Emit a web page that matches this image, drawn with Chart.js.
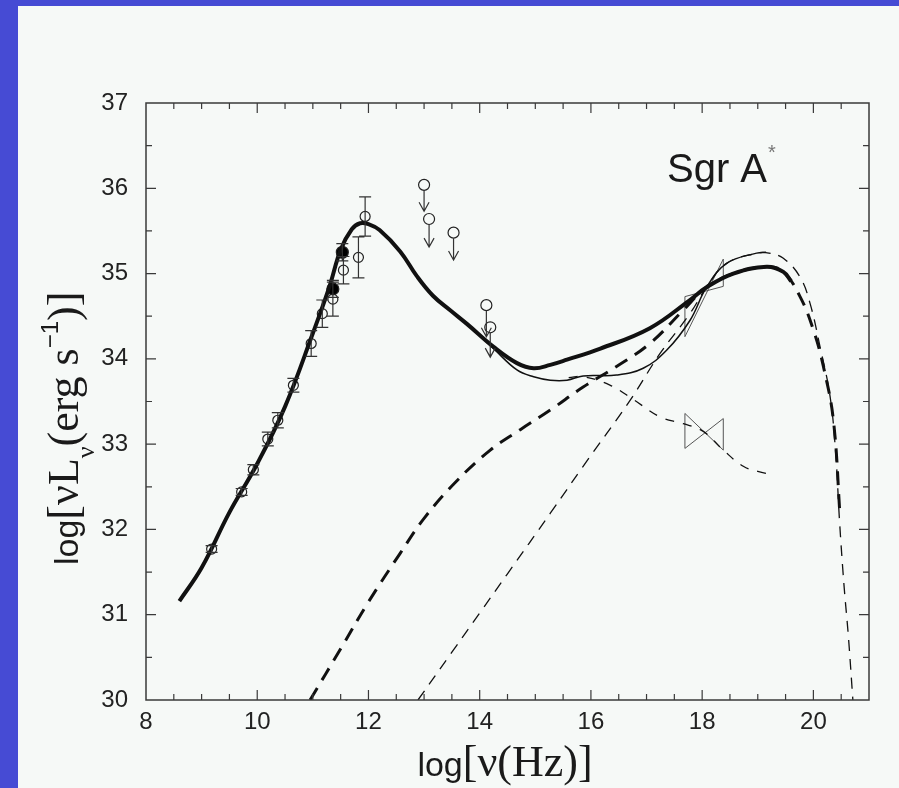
<!DOCTYPE html>
<html>
<head>
<meta charset="utf-8">
<script src="https://cdn.jsdelivr.net/npm/chart.js@4.4.0/dist/chart.umd.min.js"></script>
<style>
  html, body { margin: 0; padding: 0; }
  body { width: 899px; height: 788px; background: #464bd4; position: relative; overflow: hidden; }
  #paper { position: absolute; left: 18px; top: 6px; right: 0; bottom: 0; background: #f6f9f7; }
  #box { position: absolute; left: 0; top: 0; width: 899px; height: 788px; }
</style>
</head>
<body>
<div id="paper"></div>
<div id="box"><canvas id="sed"></canvas></div>
<script>
// axis ranges (log nu, log nuLnu)
const xMin = 8, xMax = 21;
const yMin = 30, yMax = 37;

// radio/submm detections (open circles) with error bars
const detX = [9.18, 9.72, 9.93, 10.19, 10.37, 10.65, 10.97, 11.17, 11.36, 11.55, 11.82, 11.94];
const detY = [31.77, 32.44, 32.70, 33.06, 33.28, 33.69, 34.18, 34.53, 34.70, 35.04, 35.19, 35.67];
const detErr = [0.04, 0.04, 0.06, 0.08, 0.09, 0.08, 0.15, 0.16, 0.20, 0.16, 0.24, 0.23];

// filled circles
const fillX = [11.36, 11.53];
const fillY = [34.82, 35.25];
const fillErr = [0.10, 0.10];

// IR upper limits (circle + arrow down to tip)
const limX = [13.00, 13.09, 13.53, 14.12, 14.19];
const limY = [36.04, 35.64, 35.48, 34.63, 34.37];
const limTip = [35.73, 35.31, 35.16, 34.26, 34.02];

// thick solid model
const totAX = [8.6, 9.0, 9.5, 10.0, 10.5, 11.0, 11.3, 11.5, 11.7, 11.85, 12.0, 12.2, 12.57, 12.87, 13.16, 13.47, 13.77, 14.25, 14.67, 14.97, 15.27, 15.57, 16.17, 17.06, 17.78, 18.08, 18.56, 19.16, 19.46, 19.6];
const totAY = [31.16, 31.55, 32.2, 32.77, 33.44, 34.3, 34.85, 35.28, 35.52, 35.59, 35.58, 35.51, 35.26, 34.97, 34.74, 34.57, 34.41, 34.14, 33.95, 33.89, 33.93, 33.99, 34.12, 34.36, 34.69, 34.84, 35.0, 35.08, 35.02, 34.91];

// thin solid model
const totBX = [13.47, 13.77, 14.25, 14.67, 14.97, 15.27, 15.57, 15.86, 16.46, 16.94, 17.36, 17.78, 18.08, 18.44, 18.98, 19.15];
const totBY = [34.57, 34.41, 34.12, 33.87, 33.79, 33.75, 33.75, 33.80, 33.81, 33.89, 34.10, 34.45, 34.84, 35.12, 35.24, 35.25];

// thick dashed component
const compAX = [10.95, 11.5, 12.0, 12.57, 13.0, 13.56, 14.19, 14.73, 15.27, 15.86, 16.46, 17.06, 17.66, 18.08, 18.56, 19.16, 19.46, 19.76, 20.0, 20.18, 20.36, 20.48];
const compAY = [30.0, 30.6, 31.15, 31.72, 32.13, 32.55, 32.93, 33.17, 33.40, 33.67, 33.91, 34.18, 34.57, 34.84, 35.0, 35.08, 35.02, 34.73, 34.34, 33.91, 33.28, 32.15];

// thin dashed component (steep, high energy)
const compBX = [12.89, 13.5, 14.0, 14.5, 15.27, 15.86, 16.71, 17.24, 17.78, 18.08, 18.44, 19.0, 19.2, 19.46, 19.76, 19.94, 20.12, 20.3, 20.4, 20.47, 20.55, 20.63, 20.71];
const compBY = [30.0, 30.56, 31.02, 31.48, 32.19, 32.74, 33.52, 34.06, 34.53, 34.84, 35.12, 35.24, 35.24, 35.18, 34.96, 34.65, 34.14, 33.56, 32.9, 32.1, 31.35, 30.74, 30.0];

// thin dashed component (falling, through lower bowtie)
const compCX = [15.6, 15.87, 16.35, 16.77, 17.24, 17.66, 18.02, 18.38, 18.74, 19.0, 19.28];
const compCY = [33.78, 33.79, 33.69, 33.52, 33.32, 33.24, 33.15, 32.93, 32.74, 32.68, 32.64];

// X-ray bowties (corner sequence)
const bowHiX = [17.69, 18.38, 18.38, 17.69, 17.69];
const bowHiY = [34.73, 34.85, 35.17, 34.26, 34.73];
const bowLoX = [17.69, 18.38, 18.38, 17.69, 17.69];
const bowLoY = [33.36, 32.93, 33.30, 32.95, 33.36];

const xy = (xs, ys) => xs.map((x, i) => ({ x: x, y: ys[i] }));

function curve(xs, ys, width, dash) {
  return {
    data: xy(xs, ys),
    borderColor: '#111',
    borderWidth: width,
    borderDash: dash || [],
    pointRadius: 0,
    fill: false,
    tension: 0.4
  };
}

function bow(xs, ys) {
  return { data: xy(xs, ys), borderColor: '#555', borderWidth: 1, pointRadius: 0, tension: 0, fill: false };
}

function dots(xs, ys, r, fillCol) {
  return {
    data: xy(xs, ys),
    showLine: false,
    pointRadius: r,
    pointBackgroundColor: fillCol,
    pointBorderColor: '#222',
    pointBorderWidth: 1.2
  };
}

const boxPlugin = {
  id: 'box',
  afterDatasetsDraw(chart) {
    const { ctx, chartArea: a, scales: { x, y } } = chart;
    ctx.save();
    // error bars
    ctx.strokeStyle = '#333';
    ctx.lineWidth = 1.2;
    ctx.beginPath();
    const bars = (xs, ys, es) => xs.forEach((v, i) => {
      const px = x.getPixelForValue(v);
      const lo = y.getPixelForValue(ys[i] - es[i]);
      const hi = y.getPixelForValue(ys[i] + es[i]);
      ctx.moveTo(px, lo); ctx.lineTo(px, hi);
      ctx.moveTo(px - 6, lo); ctx.lineTo(px + 6, lo);
      ctx.moveTo(px - 6, hi); ctx.lineTo(px + 6, hi);
    });
    bars(detX, detY, detErr);
    bars(fillX, fillY, fillErr);
    // upper limit arrows
    limX.forEach((v, i) => {
      const px = x.getPixelForValue(v);
      const top = y.getPixelForValue(limY[i]) + 5.5;
      const tip = y.getPixelForValue(limTip[i]);
      ctx.moveTo(px, top); ctx.lineTo(px, tip);
      ctx.moveTo(px - 5, tip - 9); ctx.lineTo(px, tip); ctx.lineTo(px + 5, tip - 9);
    });
    ctx.stroke();

    // frame with inward ticks on all sides
    ctx.strokeStyle = '#3a3a3a';
    ctx.lineWidth = 1.5;
    ctx.strokeRect(a.left, a.top, a.right - a.left, a.bottom - a.top);
    ctx.lineWidth = 1.2;
    ctx.beginPath();
    for (let v = xMin + 0.5; v < xMax; v += 0.5) {
      const px = x.getPixelForValue(v);
      const len = v % 2 === 0 ? 10 : 6;
      ctx.moveTo(px, a.bottom); ctx.lineTo(px, a.bottom - len);
      ctx.moveTo(px, a.top); ctx.lineTo(px, a.top + len);
    }
    for (let v = yMin + 0.5; v < yMax; v += 0.5) {
      const py = y.getPixelForValue(v);
      const len = v % 1 === 0 ? 10 : 6;
      ctx.moveTo(a.left, py); ctx.lineTo(a.left + len, py);
      ctx.moveTo(a.right, py); ctx.lineTo(a.right - len, py);
    }
    ctx.stroke();
    ctx.restore();
  },
  afterDraw(chart) {
    const ctx = chart.ctx;
    ctx.save();
    ctx.fillStyle = '#1a1a1a';
    ctx.textBaseline = 'alphabetic';
    ctx.textAlign = 'left';

    // pieces: [text, font, baseline shift]
    const write = (parts) => {
      let cx = 0;
      parts.forEach(([t, f, dy]) => {
        ctx.font = f;
        ctx.fillText(t, cx, dy);
        cx += ctx.measureText(t).width;
      });
      return cx;
    };
    const sans = '34px "Liberation Sans"';
    const serif = '44px "Liberation Serif"';

    // x title
    ctx.save();
    const xParts = [['log', sans, 0], ['[ν(Hz)]', serif, 0]];
    let wx = 0;
    xParts.forEach(([t, f]) => { ctx.font = f; wx += ctx.measureText(t).width; });
    ctx.translate(505 - wx / 2, 776);
    write(xParts);
    ctx.restore();

    // y title
    ctx.save();
    ctx.translate(78, 565);
    ctx.rotate(-Math.PI / 2);
    write([
      ['log', sans, 0],
      ['[νL', serif, 0],
      ['ν', '26px "Liberation Serif"', 16],
      ['(erg s', serif, 0],
      ['−1', '24px "Liberation Sans"', -20],
      [')]', serif, 0]
    ]);
    ctx.restore();

    // label
    ctx.font = '40px "Liberation Sans"';
    ctx.textAlign = 'right';
    ctx.fillText('Sgr A', 767, 182);
    ctx.fillStyle = '#777';
    ctx.font = '20px "Liberation Sans"';
    ctx.textAlign = 'left';
    ctx.fillText('*', 768, 159);
    ctx.restore();
  }
};

new Chart(document.getElementById('sed'), {
  type: 'line',
  data: {
    datasets: [
      curve(compBX, compBY, 1.3, [11, 8]),
      curve(compCX, compCY, 1.3, [9, 9]),
      curve(compAX, compAY, 3, [14, 9]),
      curve(totBX, totBY, 1.5),
      curve(totAX, totAY, 4),
      bow(bowHiX, bowHiY),
      bow(bowLoX, bowLoY),
      dots(detX, detY, 5, 'rgba(0,0,0,0)'),
      dots(limX, limY, 5.5, 'rgba(0,0,0,0)'),
      dots(fillX, fillY, 6, '#000')
    ]
  },
  options: {
    responsive: true,
    maintainAspectRatio: false,
    animation: false,
    events: [],
    layout: { padding: { left: 0, top: 103, right: 30, bottom: 0 } },
    plugins: { legend: { display: false }, tooltip: { enabled: false } },
    scales: {
      x: {
        type: 'linear',
        min: xMin,
        max: xMax,
        border: { display: false },
        grid: { display: false, drawTicks: false },
        afterFit: (s) => { s.height = 88; },
        ticks: {
          stepSize: 2,
          includeBounds: false,
          padding: 8,
          maxRotation: 0,
          color: '#222',
          font: { family: 'Liberation Sans', size: 24 }
        }
      },
      y: {
        type: 'linear',
        min: yMin,
        max: yMax,
        border: { display: false },
        grid: { display: false, drawTicks: false },
        afterFit: (s) => { s.width = 146; },
        ticks: {
          stepSize: 1,
          padding: 18,
          color: '#222',
          font: { family: 'Liberation Sans', size: 24 }
        }
      }
    }
  },
  plugins: [boxPlugin]
});
</script>
</body>
</html>
